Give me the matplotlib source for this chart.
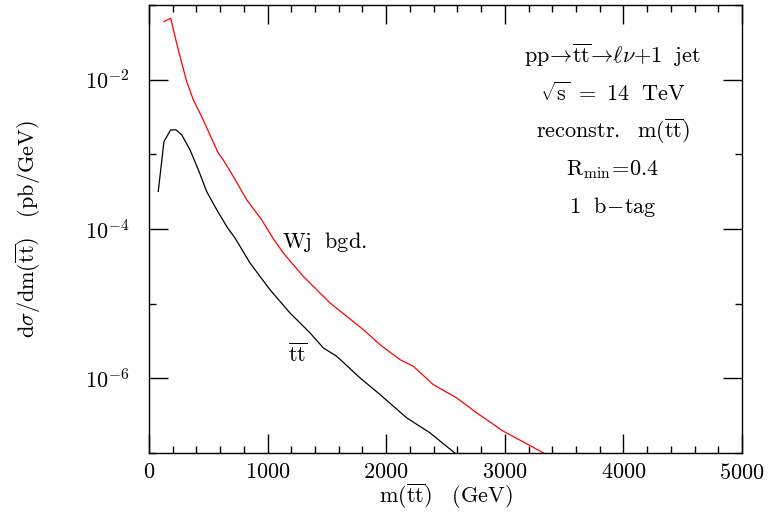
import numpy as np
import matplotlib.pyplot as plt
from matplotlib.ticker import FixedLocator, NullFormatter, LogFormatterMathtext

plt.rcParams['font.family'] = 'serif'
plt.rcParams['font.serif'] = ['cmr10', 'DejaVu Serif']
plt.rcParams['mathtext.fontset'] = 'cm'
plt.rcParams['axes.formatter.use_mathtext'] = True

# W+jet background (red): m in GeV, log10 of dsigma/dm
wj_m = [126, 183, 247, 318, 374, 444, 514, 584, 626, 711, 824, 950, 1048, 1132,
        1301, 1526, 1807, 1948, 2116, 2229, 2397, 2594, 2763, 2987, 3212, 3339]
wj_log = [-1.223, -1.178, -1.602, -2.026, -2.271, -2.494, -2.739, -2.984, -3.074,
          -3.297, -3.609, -3.876, -4.13, -4.32, -4.635, -4.99, -5.348, -5.549,
          -5.749, -5.839, -6.084, -6.262, -6.462, -6.708, -6.90, -7.01]

# ttbar signal (black)
tt_m = [78, 126, 183, 228, 276, 346, 416, 486, 571, 655, 725, 852, 1020, 1189,
        1358, 1470, 1583, 1779, 1948, 2173, 2369, 2594]
tt_log = [-3.497, -2.829, -2.672, -2.672, -2.739, -2.94, -3.207, -3.497, -3.742,
          -3.966, -4.12, -4.456, -4.813, -5.125, -5.392, -5.593, -5.705, -5.994,
          -6.217, -6.529, -6.73, -7.02]

wj = 10.0 ** np.array(wj_log)
tt = 10.0 ** np.array(tt_log)

fig = plt.figure(figsize=(7.74, 5.2), dpi=100)
ax = fig.add_axes([149/774, 1 - 453/520, (742-149)/774, (453-5)/520])

ax.plot(wj_m, wj, color='red', lw=0.9)
ax.plot(tt_m, tt, color='black', lw=0.9)

ax.set_yscale('log')
ax.set_xlim(0, 5000)
ax.set_ylim(1e-7, 1e-1)

ax.xaxis.set_major_locator(FixedLocator([0, 1000, 2000, 3000, 4000, 5000]))
ax.xaxis.set_minor_locator(FixedLocator(np.arange(0, 5001, 200)))
ax.yaxis.set_major_locator(FixedLocator([1e-2, 1e-4, 1e-6]))
ax.yaxis.set_minor_locator(FixedLocator([1e-1, 1e-3, 1e-5, 1e-7]))
ax.yaxis.set_major_formatter(LogFormatterMathtext())
ax.yaxis.set_minor_formatter(NullFormatter())

ax.tick_params(which='both', direction='in', top=True, right=True, width=1.0,
               labelsize=16)
ax.tick_params(which='major', length=13.5)
ax.tick_params(which='minor', length=5)
ax.tick_params(axis='x', pad=7)
ax.tick_params(axis='y', pad=14)
for s in ax.spines.values():
    s.set_linewidth(1.0)

ax.set_xlabel(r'$\mathrm{m(\overline{tt})\ \ \ (GeV)}$', fontsize=16, labelpad=-1)
ax.set_ylabel(r'$\mathrm{d}\sigma/\mathrm{dm(\overline{tt})\ \ \ (pb/GeV)}$', fontsize=16,
              labelpad=30)

ax.text(1120, 10**-4.18, r'$\mathrm{Wj\ \ bgd.}$', fontsize=16, va='center')
ax.text(1170, 10**-5.68, r'$\mathrm{\overline{tt}}$', fontsize=16, va='center')

lines = [r'$\mathrm{pp}\!\rightarrow\!\mathrm{\overline{tt}}\!\rightarrow\!\ell\nu\mathrm{+1\ \ jet}$',
         r'$\sqrt{\mathrm{s}}\ =\ 14\ \ \mathrm{TeV}$',
         r'$\mathrm{reconstr.\ \ m(\overline{tt})}$',
         r'$\mathrm{R_{min}\!=\!0.4}$',
         r'$\mathrm{1\ \ b\!-\!tag}$']
for i, s in enumerate(lines):
    ax.text(0.782, 0.888 - i * 0.0848, s, transform=ax.transAxes, fontsize=16,
            ha='center', va='center')

fig.savefig('out.png', dpi=100)
